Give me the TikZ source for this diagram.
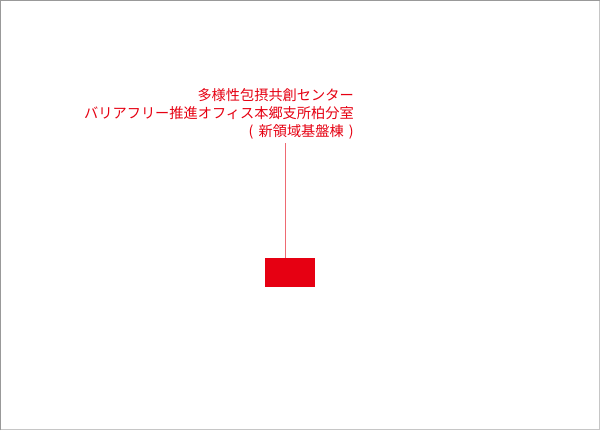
\documentclass[tikz,border=0pt]{standalone}
\usepackage{fontspec}
\newfontfamily\cjk{Noto Sans CJK JP}
\definecolor{mred}{HTML}{E60012}
\definecolor{mline}{HTML}{EE6A72}
\begin{document}
\begin{tikzpicture}[x=0.75pt,y=-0.75pt,
  lbl/.style={text=mred,font=\cjk\fontsize{10.65pt}{13.5pt}\selectfont,align=right,inner sep=0pt,anchor=north east},
  redbox/.style={fill=mred,draw=none},
  leader/.style={draw=mline,line width=1pt}]
\useasboundingbox (0,0) rectangle (600,430);
\fill[white] (0,0) rectangle (600,430);
\draw[gray!45,line width=0.75pt] (599.5,0) -- (599.5,429.5) -- (0,429.5);
\draw[gray!80,line width=0.75pt] (0.5,430) -- (0.5,0.5) -- (600,0.5);
\node[lbl] (t) at (354,88) {多様性包摂共創センター\\バリアフリー推進オフィス本郷支所柏分室\\(\hspace{0.36em}新領域基盤棟\hspace{0.36em})};
\node[redbox,minimum width=37.5pt,minimum height=21.75pt,inner sep=0pt,anchor=north west] (r) at (265,258) {};
\coordinate (ltop) at (285.7,143);
\path[leader] (ltop) -- (r.north -| ltop);
\end{tikzpicture}
\end{document}
